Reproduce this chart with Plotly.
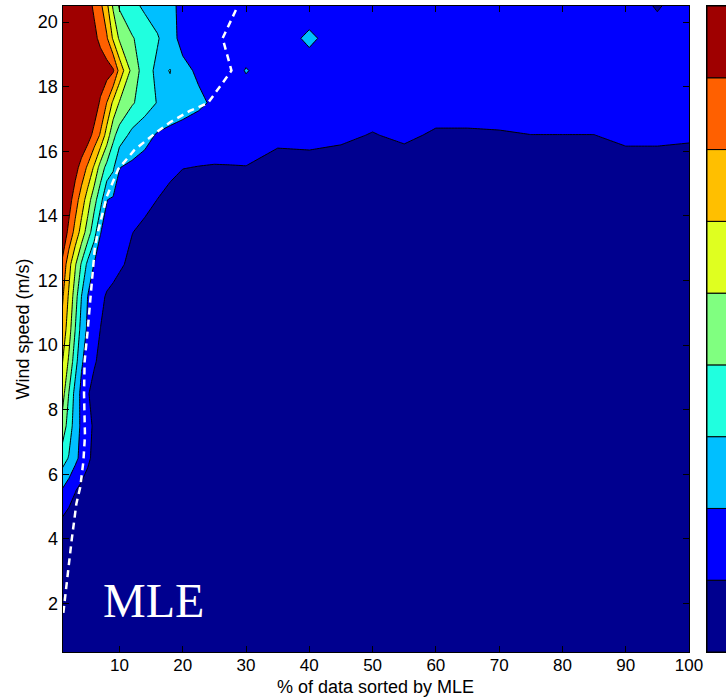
import plotly.graph_objects as go

# Column positions: percentage of data sorted by MLE
pct = [1, 2, 3, 4, 5, 6, 7, 8, 9, 10, 12, 14, 16, 18, 20, 22.5, 25, 27.5, 30,
       35, 40, 45, 50, 55, 60, 65, 70, 75, 80, 85, 90, 95, 100]

# Row positions: wind speed (m/s)
wind = [0.5, 1.5, 2.5, 3.5, 4.5, 5.5, 6.5, 7.5, 8.5, 9.5, 10.5,
        11.5, 12.5, 13.5, 14.5, 15.5, 16.5, 17.5, 18.5, 19.5, 20.5]

# Contour class value at each (wind speed, %) node; one list per wind-speed row
ws_00_5 = [0.4, 0.4, 0.4, 0.4, 0.4, 0.4, 0.4, 0.4, 0.4, 0.4, 0.4, 0.4, 0.4, 0.4, 0.4, 0.4, 0.4, 0.4, 0.4,
           0.4, 0.4, 0.4, 0.4, 0.4, 0.4, 0.4, 0.4, 0.4, 0.4, 0.4, 0.4, 0.4, 0.4]
ws_01_5 = [0.4, 0.4, 0.4, 0.4, 0.4, 0.4, 0.4, 0.4, 0.4, 0.4, 0.4, 0.4, 0.4, 0.4, 0.4, 0.4, 0.4, 0.4, 0.4,
           0.4, 0.4, 0.4, 0.4, 0.4, 0.4, 0.4, 0.4, 0.4, 0.4, 0.4, 0.4, 0.4, 0.4]
ws_02_5 = [0.4, 0.4, 0.4, 0.4, 0.4, 0.4, 0.4, 0.4, 0.4, 0.4, 0.4, 0.4, 0.4, 0.4, 0.4, 0.4, 0.4, 0.4, 0.4,
           0.4, 0.4, 0.4, 0.4, 0.4, 0.4, 0.4, 0.4, 0.4, 0.4, 0.4, 0.4, 0.4, 0.4]
ws_03_5 = [0.4, 0.4, 0.4, 0.4, 0.4, 0.4, 0.4, 0.4, 0.4, 0.4, 0.4, 0.4, 0.4, 0.4, 0.4, 0.4, 0.4, 0.4, 0.4,
           0.4, 0.4, 0.4, 0.4, 0.4, 0.4, 0.4, 0.4, 0.4, 0.4, 0.4, 0.4, 0.4, 0.4]
ws_04_5 = [0.8, 0.6, 0.5, 0.45, 0.4, 0.4, 0.4, 0.4, 0.4, 0.4, 0.4, 0.4, 0.4, 0.4, 0.4, 0.4, 0.4, 0.4, 0.4,
           0.4, 0.4, 0.4, 0.4, 0.4, 0.4, 0.4, 0.4, 0.4, 0.4, 0.4, 0.4, 0.4, 0.4]
ws_05_5 = [1.9, 1.45, 1.04, 0.75, 0.55, 0.45, 0.4, 0.4, 0.4, 0.4, 0.4, 0.4, 0.4, 0.4, 0.4, 0.4, 0.4, 0.4, 0.4,
           0.4, 0.4, 0.4, 0.4, 0.4, 0.4, 0.4, 0.4, 0.4, 0.4, 0.4, 0.4, 0.4, 0.4]
ws_06_5 = [3.46, 2.93, 2.27, 1.69, 1.18, 0.75, 0.55, 0.45, 0.4, 0.4, 0.4, 0.4, 0.4, 0.4, 0.4, 0.4, 0.4, 0.4, 0.4,
           0.4, 0.4, 0.4, 0.4, 0.4, 0.4, 0.4, 0.4, 0.4, 0.4, 0.4, 0.4, 0.4, 0.4]
ws_07_5 = [4.6, 3.56, 2.52, 1.8, 1.3, 0.85, 0.6, 0.45, 0.4, 0.4, 0.4, 0.4, 0.4, 0.4, 0.4, 0.4, 0.4, 0.4, 0.4,
           0.4, 0.4, 0.4, 0.4, 0.4, 0.4, 0.4, 0.4, 0.4, 0.4, 0.4, 0.4, 0.4, 0.4]
ws_08_5 = [5.42, 3.98, 2.67, 1.73, 1.07, 0.7, 0.55, 0.45, 0.4, 0.4, 0.4, 0.4, 0.4, 0.4, 0.4, 0.4, 0.4, 0.4, 0.4,
           0.4, 0.4, 0.4, 0.4, 0.4, 0.4, 0.4, 0.4, 0.4, 0.4, 0.4, 0.4, 0.4, 0.4]
ws_09_5 = [6.03, 4.86, 3.43, 2.125, 1.57, 1.1, 0.8, 0.6, 0.5, 0.45, 0.4, 0.4, 0.4, 0.4, 0.4, 0.4, 0.4, 0.4, 0.4,
           0.4, 0.4, 0.4, 0.4, 0.4, 0.4, 0.4, 0.4, 0.4, 0.4, 0.4, 0.4, 0.4, 0.4]
ws_10_5 = [6.68, 5.46, 4.02, 2.61, 1.82, 1.41, 0.99, 0.75, 0.6, 0.5, 0.45, 0.4, 0.4, 0.4, 0.4, 0.4, 0.4, 0.4, 0.4,
           0.4, 0.4, 0.4, 0.4, 0.4, 0.4, 0.4, 0.4, 0.4, 0.4, 0.4, 0.4, 0.4, 0.4]
ws_11_5 = [7.13, 5.86, 4.47, 2.99, 1.96, 1.61, 1.25, 0.89, 0.75, 0.62, 0.5, 0.45, 0.4, 0.4, 0.4, 0.4, 0.4, 0.4, 0.4,
           0.4, 0.4, 0.4, 0.4, 0.4, 0.4, 0.4, 0.4, 0.4, 0.4, 0.4, 0.4, 0.4, 0.4]
ws_12_5 = [7.78, 6.375, 5.125, 3.875, 2.73, 1.96, 1.75, 1.54, 1.33, 1.125, 0.8, 0.6, 0.5, 0.45, 0.4, 0.4, 0.4, 0.4, 0.4,
           0.4, 0.4, 0.4, 0.4, 0.4, 0.4, 0.4, 0.4, 0.4, 0.4, 0.4, 0.4, 0.4, 0.4]
ws_13_5 = [8.79, 7.74, 6.68, 5.61, 4.5, 3.42, 2.02, 1.8, 1.61, 1.41, 1.02, 0.8, 0.6, 0.5, 0.45, 0.4, 0.4, 0.4, 0.4,
           0.4, 0.4, 0.4, 0.4, 0.4, 0.4, 0.4, 0.4, 0.4, 0.4, 0.4, 0.4, 0.4, 0.4]
ws_14_5 = [8.9, 8.43, 7.48, 6.52, 5.5, 4.35, 3.39, 2.02, 1.87, 1.75, 1.49, 1.24, 0.99, 0.756, 0.6, 0.5, 0.45, 0.45, 0.45,
           0.4, 0.4, 0.4, 0.4, 0.4, 0.4, 0.4, 0.4, 0.4, 0.4, 0.4, 0.4, 0.4, 0.4]
ws_15_5 = [9.0, 8.9, 8.38, 7.62, 6.82, 5.87, 4.56, 3.7, 3.16, 2.02, 1.8, 1.6, 1.4, 1.2, 1.02, 0.98, 0.961, 0.978, 0.989,
           0.7, 0.765, 0.53, 0.6, 0.46, 0.6, 0.6, 0.6, 0.6, 0.6, 0.6, 0.61, 0.61, 0.37]
ws_16_5 = [9.0, 9.0, 8.9, 8.9, 8.46, 7.69, 6.88, 5.57, 4.25, 3.56, 2.7, 2.33, 1.9, 1.7, 1.55, 1.45, 1.35, 1.25, 1.2,
           1.2, 1.2, 1.2, 0.944, 1.2, 0.859, 0.859, 0.905, 0.99, 0.99, 0.99, 1.2, 1.2, 1.2]
ws_17_5 = [9.0, 9.0, 9.0, 9.0, 9.0, 8.67, 7.83, 6.98, 5.8, 4.92, 4.12, 3.48, 2.95, 2.71, 2.48, 2.18, 1.85, 1.65, 1.55,
           1.5, 1.5, 1.5, 1.5, 1.5, 1.5, 1.5, 1.5, 1.5, 1.5, 1.5, 1.45, 1.45, 1.45]
ws_18_5 = [9.0, 9.0, 9.0, 9.0, 9.0, 8.9, 8.7, 8.45, 8.14, 6.67, 4.67, 3.48, 2.75, 3.03, 2.25, 1.85, 1.65, 1.6, 2.05,
           1.5, 1.5, 1.5, 1.5, 1.5, 1.5, 1.5, 1.5, 1.45, 1.45, 1.45, 1.4, 1.35, 1.35]
ws_19_5 = [9.0, 9.0, 9.0, 9.0, 8.88, 8.29, 7.71, 7.12, 5.86, 4.85, 4.08, 3.57, 3.1, 2.36, 1.7, 1.6, 1.55, 1.52, 1.5,
           1.45, 2.2, 1.45, 1.45, 1.45, 1.4, 1.4, 1.4, 1.4, 1.35, 1.3, 1.25, 1.23, 1.25]
ws_20_5 = [9.0, 9.0, 9.0, 8.8, 8.41, 7.82, 7.24, 6.25, 4.86, 3.88, 3.29, 2.82, 2.45, 2.09, 1.9, 1.75, 1.65, 1.55, 1.5,
           1.45, 1.45, 1.45, 1.45, 1.4, 1.4, 1.4, 1.4, 1.4, 1.35, 1.35, 1.3, 0.95, 1.3]

class_grid = [ws_00_5, ws_01_5, ws_02_5, ws_03_5, ws_04_5, ws_05_5, ws_06_5, ws_07_5,
              ws_08_5, ws_09_5, ws_10_5, ws_11_5, ws_12_5, ws_13_5, ws_14_5, ws_15_5,
              ws_16_5, ws_17_5, ws_18_5, ws_19_5, ws_20_5]

# Nine filled bands (jet-style), lowest to highest
band_colors = ["#00008F", "#0000FF", "#00BFFF", "#20FFDF", "#80FF80",
               "#DFFF20", "#FFBF00", "#FF6000", "#9F0000"]
band_index = [0, 1, 2, 3, 4, 5, 6, 7, 8]

# White dashed reference curve
curve_pct = [1.13, 1.66, 2.45, 3.2, 3.8, 4.3, 4.55, 4.4, 4.5, 5.0, 5.6, 6.1, 6.65,
             8.0, 9.8, 12.4, 15.9, 18.0, 21.1, 24.0, 27.7, 26.3, 28.7]
curve_ws = [1.71, 2.64, 3.97, 5.1, 5.6, 6.4, 7.2, 8.5, 9.5, 10.5, 12.0, 13.0, 13.55,
            14.6, 15.45, 16.05, 16.6, 16.9, 17.25, 17.5, 18.5, 19.5, 20.5]

x_ticks = [10, 20, 30, 40, 50, 60, 70, 80, 90, 100]
y_ticks = [2, 4, 6, 8, 10, 12, 14, 16, 18, 20]

W, H = 726, 698
sans = "Liberation Sans, Arial, sans-serif"
x_tick_font = dict(family=sans, size=17, color="black")
y_tick_font = dict(family=sans, size=18, color="black")
title_font = dict(family=sans, size=18, color="black")

fig = go.Figure()

fig.add_trace(go.Contour(
    x=pct, y=wind, z=class_grid,
    autocontour=False,
    contours=dict(start=1, end=8, size=1, coloring="fill", showlines=True),
    colorscale=[[k / 8, c] for k, c in zip(band_index, band_colors)],
    line=dict(color="black", width=1, smoothing=0),
    showscale=False,
    hoverinfo="skip",
))

fig.add_trace(go.Scatter(
    x=curve_pct, y=curve_ws, mode="lines",
    line=dict(color="white", width=2.5, dash="7px,5px"),
    hoverinfo="skip", showlegend=False,
))

# Colour key: one stacked block per band
fig.add_trace(go.Bar(
    x=[0] * len(band_index), y=[1] * len(band_index), base=band_index, width=1,
    marker=dict(color=band_colors, line=dict(color="black", width=1)),
    xaxis="x2", yaxis="y2", showlegend=False, hoverinfo="skip",
))

fig.update_layout(
    width=W, height=H,
    margin=dict(l=0, r=0, t=6, b=46, autoexpand=False),
    paper_bgcolor="white", plot_bgcolor="white",
    showlegend=False,
    xaxis=dict(
        domain=[62.5 / W, 689 / W], range=[1, 100],
        tickvals=x_ticks, ticks="inside", ticklen=6, tickwidth=1, tickcolor="black",
        showline=True, linecolor="black", linewidth=1, mirror="ticks",
        showgrid=False, zeroline=False, tickfont=x_tick_font, ticklabelstandoff=-2,
    ),
    yaxis=dict(
        domain=[0, 1], range=[0.5, 20.5],
        tickvals=y_ticks, ticks="inside", ticklen=6, tickwidth=1, tickcolor="black",
        showline=True, linecolor="black", linewidth=1, mirror="ticks",
        showgrid=False, zeroline=False, tickfont=y_tick_font,
    ),
    xaxis2=dict(
        domain=[707 / W, 1], range=[-0.5, 0.1], anchor="y2",
        showline=True, linecolor="black", linewidth=1, mirror=True,
        ticks="", showticklabels=False, showgrid=False, zeroline=False,
    ),
    yaxis2=dict(
        domain=[0, 1], range=[0, 9], anchor="x2",
        showline=True, linecolor="black", linewidth=1, mirror=False,
        ticks="", showticklabels=False, showgrid=False, zeroline=False,
    ),
    annotations=[
        dict(text="MLE", x=15.4, y=2.09, xref="x", yref="y", showarrow=False,
             xanchor="center", yanchor="middle",
             font=dict(family="Liberation Serif, Times New Roman, serif", size=48, color="white")),
        dict(text="% of data sorted by MLE", x=0.5, y=(652 - 686.5) / 646, xref="x domain", yref="paper",
             showarrow=False, xanchor="center", yanchor="middle", font=title_font),
        dict(text="Wind speed (m/s)", x=22.5 / W, y=0.5, xref="paper", yref="paper",
             showarrow=False, xanchor="center", yanchor="middle", textangle=-90, font=title_font),
    ],
)

fig.write_html("out.html")
